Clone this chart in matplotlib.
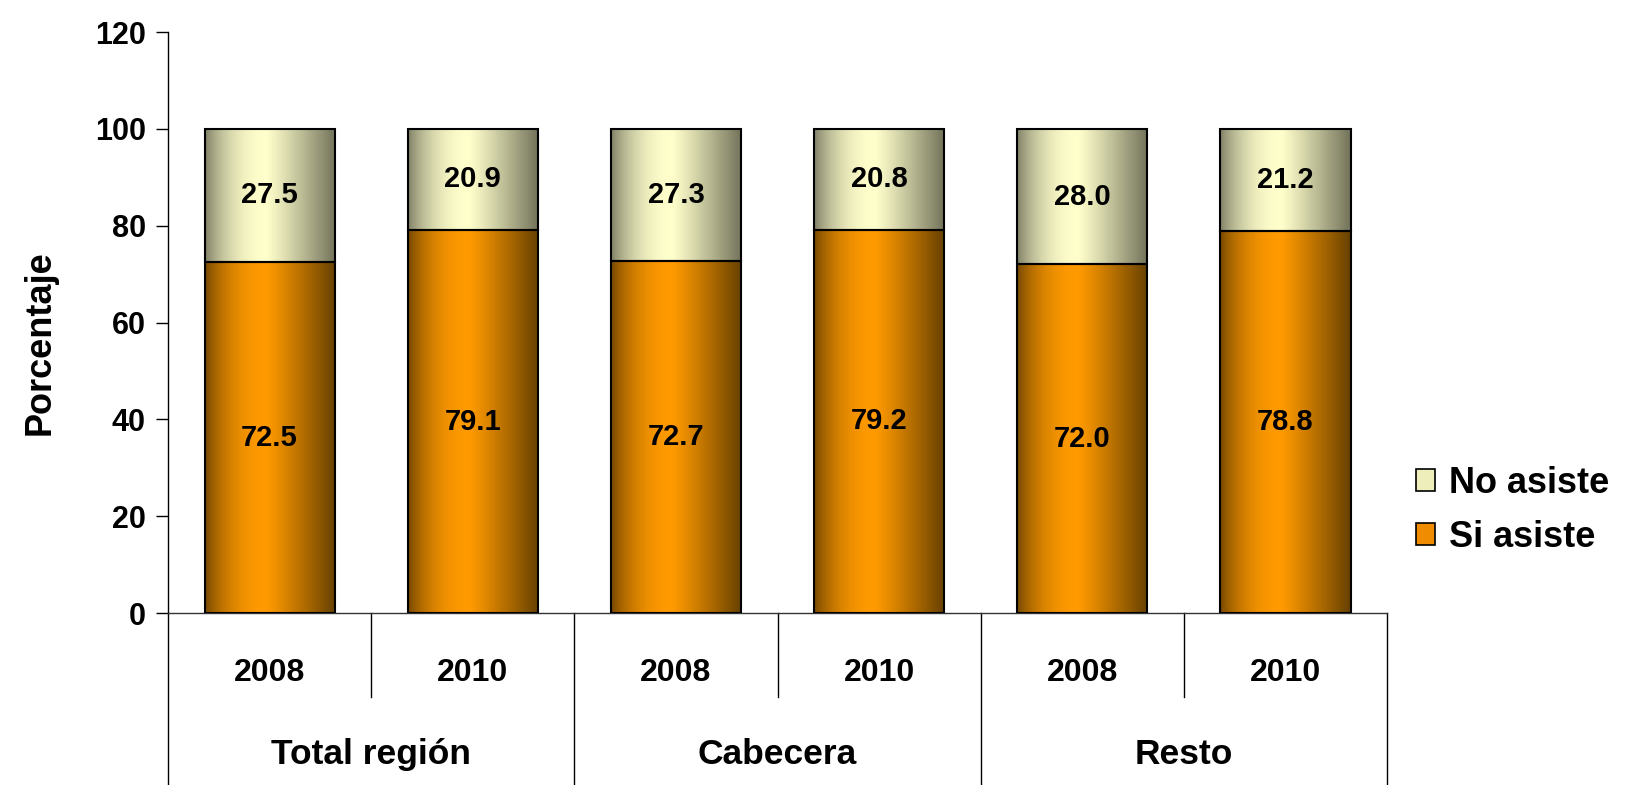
import numpy as np
import matplotlib
matplotlib.use("Agg")
import matplotlib.pyplot as plt
from matplotlib.colors import to_rgb
from matplotlib.patches import Patch
import matplotlib.transforms as mtransforms

plt.rcParams['font.family'] = ['Liberation Sans', 'DejaVu Sans']
plt.rcParams['font.weight'] = 'bold'

# datos
grupos = ['Total región', 'Cabecera', 'Resto']
anios = ['2008', '2010', '2008', '2010', '2008', '2010']
si_asiste = [72.5, 79.1, 72.7, 79.2, 72.0, 78.8]
no_asiste = [27.5, 20.9, 27.3, 20.8, 28.0, 21.2]
yticks = [0, 20, 40, 60, 80, 100, 120]


def gradiente(centro, borde_izq, borde_der, n=256):
    # perfil horizontal tipo cilindro
    t = np.linspace(0, 1, n)
    c = np.array(to_rgb(centro))
    li = np.array(to_rgb(borde_izq))
    ld = np.array(to_rgb(borde_der))
    pico = 0.47
    out = np.zeros((1, n, 3))
    for i, v in enumerate(t):
        if v <= pico:
            s = (v / pico) ** 0.8
            out[0, i] = li + (c - li) * np.sin(s * np.pi / 2)
        else:
            s = ((v - pico) / (1 - pico)) ** 1.1
            out[0, i] = c + (ld - c) * s
    return out


grad_si = gradiente('#FF9A00', '#734600', '#664000')
grad_no = gradiente('#FFFFCC', '#7C7C64', '#72725A')

fig = plt.figure(figsize=(16.29, 7.85), dpi=100)
ax = fig.add_axes([0.1031, 0.2191, 0.7484, 0.7401])

x = np.arange(len(si_asiste))
ancho = 0.64
b1 = ax.bar(x, si_asiste, ancho, facecolor='none', edgecolor='black', linewidth=1.5, zorder=3)
b2 = ax.bar(x, no_asiste, ancho, bottom=si_asiste, facecolor='none', edgecolor='black',
            linewidth=1.5, zorder=3)

for barras, grad in ((b1, grad_si), (b2, grad_no)):
    for p in barras:
        x0, y0 = p.get_x(), p.get_y()
        im = ax.imshow(grad, extent=[x0, x0 + p.get_width(), y0, y0 + p.get_height()],
                       aspect='auto', zorder=2, interpolation='bilinear')
        im.set_clip_path(p)

for i in range(len(x)):
    ax.text(x[i], si_asiste[i] / 2, f"{si_asiste[i]:.1f}", ha='center', va='center',
            fontsize=21, fontweight='bold', zorder=4)
    ax.text(x[i], si_asiste[i] + no_asiste[i] / 2, f"{no_asiste[i]:.1f}", ha='center',
            va='center', fontsize=21, fontweight='bold', zorder=4)

ax.set_xlim(-0.5, len(x) - 0.5)
ax.set_ylim(0, 120)
ax.set_yticks(yticks)
ax.tick_params(axis='y', direction='out', length=9, width=1, pad=7, labelsize=22)
ax.set_xticks([])
for s in ['top', 'right']:
    ax.spines[s].set_visible(False)
ax.spines['left'].set_linewidth(1)
ax.spines['bottom'].set_linewidth(1)
ax.spines['bottom'].set_color('#333333')

ax.set_ylabel('Porcentaje', fontsize=26, fontweight='bold', va='center')
ax.yaxis.set_label_coords(-0.105, 0.465)

# eje categórico en dos niveles
tr = mtransforms.blended_transform_factory(ax.transData, ax.transAxes)
for xs in [-0.5, 1.5, 3.5, 5.5]:
    ax.plot([xs, xs], [0, -0.3], transform=tr, color='black', lw=1, clip_on=False)
for xs in [0.5, 2.5, 4.5]:
    ax.plot([xs, xs], [0, -0.145], transform=tr, color='black', lw=1, clip_on=False)
for i, a in enumerate(anios):
    ax.text(x[i], -0.104, a, transform=tr, ha='center', va='center', fontsize=23,
            fontweight='bold')
for j, g in enumerate(grupos):
    ax.text(2 * j + 0.5, -0.243, g, transform=tr, ha='center', va='center', fontsize=25.5,
            fontweight='bold')

handles = [Patch(facecolor='#EEEEBB', edgecolor='black', linewidth=1.2),
           Patch(facecolor='#F08C00', edgecolor='black', linewidth=1.2)]
fig.legend(handles, ['No asiste', 'Si asiste'], loc='center left',
           bbox_to_anchor=(0.869, 0.350), frameon=False, fontsize=26,
           handlelength=0.53, handleheight=0.53, handletextpad=0.4,
           labelspacing=0.53, borderpad=0, borderaxespad=0)

fig.savefig('out.png', dpi=100)
